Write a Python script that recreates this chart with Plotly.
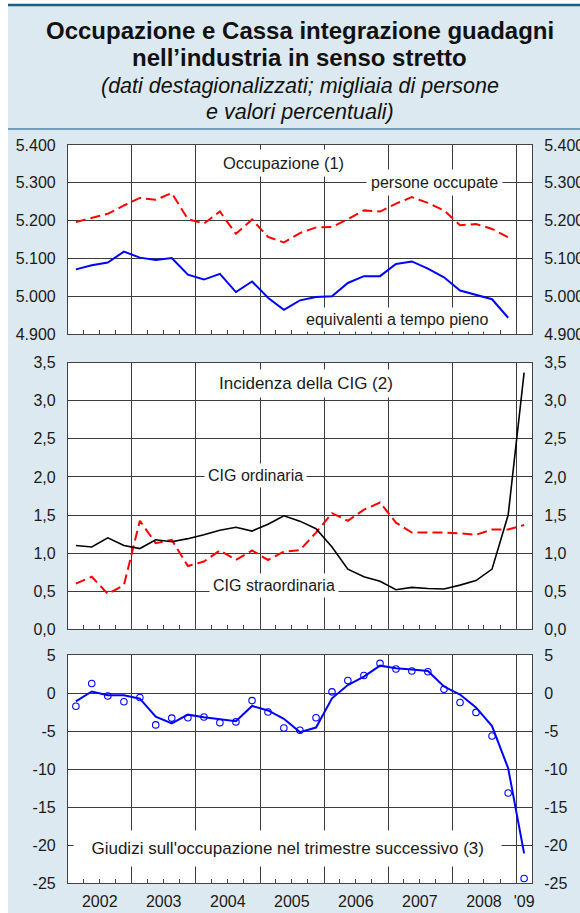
import plotly.graph_objects as go

# ---------------- data ----------------
quarters = [f"{y}-{m:02d}-01" for y in range(2002, 2010) for m in (1, 4, 7, 10)][:29]

persone_occupate = [5196, 5207, 5218, 5240, 5260, 5255, 5273, 5204, 5192, 5224, 5165, 5203,
                    5157, 5142, 5167, 5182, 5183, 5204, 5227, 5224, 5245, 5262, 5247, 5227,
                    5188, 5191, 5178, 5156]
equivalenti_tp = [5071, 5082, 5089, 5118, 5102, 5096, 5101, 5057, 5044, 5059, 5011, 5039,
                  4996, 4964, 4989, 4998, 5000, 5035, 5053, 5053, 5085, 5092, 5073, 5050,
                  5015, 5004, 4992, 4943]

cig_ordinaria = [1.10, 1.08, 1.20, 1.10, 1.06, 1.175, 1.15, 1.19, 1.24, 1.30, 1.34, 1.29,
                 1.38, 1.49, 1.42, 1.32, 1.08, 0.79, 0.69, 0.63, 0.52, 0.55, 0.535, 0.53,
                 0.58, 0.64, 0.79, 1.50, 3.37]
cig_straordinaria = [0.60, 0.69, 0.465, 0.58, 1.425, 1.13, 1.175, 0.83, 0.89, 1.035, 0.91, 1.035,
                     0.91, 1.02, 1.04, 1.27, 1.525, 1.425, 1.57, 1.665, 1.40, 1.27, 1.27, 1.27,
                     1.26, 1.24, 1.31, 1.31, 1.37]

giudizi_media = [-1.1, 0.2, -0.3, -0.3, -0.75, -3.1, -4.0, -2.85, -3.2, -3.45, -3.7, -1.7,
                 -2.3, -3.4, -5.15, -4.55, -0.7, 1.05, 2.15, 3.6, 3.25, 3.1, 2.9, 0.85,
                 -0.2, -1.9, -4.35, -9.9, -21.1]
giudizi = [-1.75, 1.25, -0.4, -1.15, -0.6, -4.2, -3.3, -3.25, -3.15, -3.9, -3.8, -1.0,
           -2.5, -4.6, -4.9, -3.25, 0.15, 1.65, 2.3, 3.9, 3.15, 2.9, 2.8, 0.5,
           -1.25, -2.55, -5.65, -13.15, -24.4]

year_bounds = [f"{y}-01-01" for y in range(2003, 2010)]
quarter_bounds = [f"{y}-{m:02d}-01" for y in range(2002, 2010) for m in (1, 4, 7, 10)][1:29]
year_label_pos = [f"{y}-07-01" for y in range(2002, 2009)] + ["2009-02-15"]
year_labels = ["2002", "2003", "2004", "2005", "2006", "2007", "2008", "'09"]

y1_vals = [4900, 5000, 5100, 5200, 5300, 5400]
y1_text = ["4.900", "5.000", "5.100", "5.200", "5.300", "5.400"]
y2_vals = [0, 0.5, 1.0, 1.5, 2.0, 2.5, 3.0, 3.5]
y2_text = ["0,0", "0,5", "1,0", "1,5", "2,0", "2,5", "3,0", "3,5"]
y3_vals = [-25, -20, -15, -10, -5, 0, 5]
y3_text = ["-25", "-20", "-15", "-10", "-5", "0", "5"]

# ---------------- layout geometry ----------------
W, H = 580, 913
ML, MR, MT, MB = 68, 48, 145, 30
PH = H - MT - MB
PW = W - ML - MR


def yf(px):
    return (H - MB - px) / PH


def xf(px):
    return (px - ML) / PW


FONT = "Liberation Sans, Arial, Helvetica, sans-serif"
BG = "#dde9f0"
GRID = "#3c3c3c"
XR = ["2002-01-01", "2009-04-01"]

fig = go.Figure()

# panel 1
fig.add_trace(go.Scatter(x=quarters[:28], y=persone_occupate, xaxis="x2", yaxis="y",
                         mode="lines", line=dict(color="#ff0000", width=2, dash="10px,5px"),
                         xperiod="M3", xperiodalignment="middle", hoverinfo="skip"))
fig.add_trace(go.Scatter(x=quarters[:28], y=equivalenti_tp, xaxis="x2", yaxis="y",
                         mode="lines", line=dict(color="#0000ff", width=2),
                         xperiod="M3", xperiodalignment="middle", hoverinfo="skip"))
# panel 2
fig.add_trace(go.Scatter(x=quarters, y=cig_straordinaria, xaxis="x3", yaxis="y2",
                         mode="lines", line=dict(color="#ff0000", width=2, dash="10px,5px"),
                         xperiod="M3", xperiodalignment="middle", hoverinfo="skip"))
fig.add_trace(go.Scatter(x=quarters, y=cig_ordinaria, xaxis="x3", yaxis="y2",
                         mode="lines", line=dict(color="#000000", width=1.6),
                         xperiod="M3", xperiodalignment="middle", hoverinfo="skip"))
# panel 3
fig.add_trace(go.Scatter(x=quarters, y=giudizi_media, xaxis="x", yaxis="y3",
                         mode="lines", line=dict(color="#0000ff", width=2),
                         xperiod="M3", xperiodalignment="middle", hoverinfo="skip"))
fig.add_trace(go.Scatter(x=quarters, y=giudizi, xaxis="x4", yaxis="y3",
                         mode="markers",
                         marker=dict(symbol="circle-open", size=6.5, color="#0000ff",
                                     line=dict(width=1.1, color="#0000ff")),
                         xperiod="M3", xperiodalignment="middle", hoverinfo="skip"))
# invisible carriers for right-hand axes
for xa, ya, yy in (("x2", "y4", equivalenti_tp), ("x3", "y5", cig_ordinaria), ("x", "y6", giudizi)):
    fig.add_trace(go.Scatter(x=quarters[:len(yy)], y=yy, xaxis=xa, yaxis=ya, mode="lines",
                             line=dict(color="rgba(0,0,0,0)", width=0), hoverinfo="skip",
                             xperiod="M3", xperiodalignment="middle"))

dom1 = [yf(334), 1.0]
dom2 = [yf(629.3), yf(362.7)]
dom3 = [0.0, yf(655)]

xbase = dict(type="date", range=XR, tickvals=year_bounds, showgrid=True, gridcolor=GRID,
             gridwidth=1, ticks="", showticklabels=False, showline=True, linecolor="#444",
             linewidth=1.2, mirror=True, zeroline=False, fixedrange=True, automargin=False,
             minor=dict(tickvals=quarter_bounds, ticks="inside", ticklen=4, tickcolor="#444",
                        tickwidth=1, showgrid=False))
ybase = dict(showgrid=True, gridcolor=GRID, gridwidth=1, showline=True, linecolor="#444",
             linewidth=1.2, mirror=True, zeroline=False, ticks="outside", ticklen=8,
             tickcolor="rgba(0,0,0,0)", tickfont=dict(family=FONT, size=16, color="#1a1a1a"),
             fixedrange=True, automargin=False)
yright = dict(showgrid=False, showline=False, zeroline=False, ticks="outside", ticklen=8,
              tickcolor="rgba(0,0,0,0)", side="right", automargin=False,
              tickfont=dict(family=FONT, size=16, color="#1a1a1a"), fixedrange=True)

fig.update_layout(
    width=W, height=H, margin=dict(l=ML, r=MR, t=MT, b=MB, pad=0, autoexpand=False),
    paper_bgcolor=BG, plot_bgcolor="white", showlegend=False,
    font=dict(family=FONT, size=16, color="#1a1a1a"),
    xaxis=dict(xbase, anchor="y3", domain=[0, 1]),
    xaxis2=dict(xbase, anchor="y", domain=[0, 1]),
    xaxis3=dict(xbase, anchor="y2", domain=[0, 1]),
    xaxis4=dict(type="date", range=XR, overlaying="x", anchor="y3", side="bottom",
                tickvals=year_label_pos, ticktext=year_labels, showgrid=False,
                showline=False, zeroline=False, ticks="outside", ticklen=4, automargin=False,
                tickcolor="rgba(0,0,0,0)", tickfont=dict(family=FONT, size=16, color="#1a1a1a"),
                fixedrange=True),
    yaxis=dict(ybase, anchor="x2", domain=dom1, range=[4900, 5400], tickvals=y1_vals, ticktext=y1_text),
    yaxis2=dict(ybase, anchor="x3", domain=dom2, range=[0, 3.5], tickvals=y2_vals, ticktext=y2_text),
    yaxis3=dict(ybase, anchor="x", domain=dom3, range=[-25, 5], tickvals=y3_vals, ticktext=y3_text),
    yaxis4=dict(yright, overlaying="y", anchor="x2", range=[4900, 5400], tickvals=y1_vals, ticktext=y1_text),
    yaxis5=dict(yright, overlaying="y2", anchor="x3", range=[0, 3.5], tickvals=y2_vals, ticktext=y2_text),
    yaxis6=dict(yright, overlaying="y3", anchor="x", range=[-25, 5], tickvals=y3_vals, ticktext=y3_text),
)

# frame decorations: white margins, blue rules
fig.add_shape(type="rect", xref="paper", yref="paper", x0=xf(-5), x1=xf(8), y0=yf(H + 5), y1=yf(-5),
              fillcolor="white", line_width=0, layer="below")
fig.add_shape(type="rect", xref="paper", yref="paper", x0=xf(-5), x1=xf(W + 5), y0=yf(4.5), y1=yf(-5),
              fillcolor="white", line_width=0, layer="below")
fig.add_shape(type="line", xref="paper", yref="paper", x0=xf(8), x1=xf(W + 5), y0=yf(5), y1=yf(5),
              line=dict(color="#1d5d86", width=2.5))
fig.add_shape(type="line", xref="paper", yref="paper", x0=xf(8), x1=xf(W + 5), y0=yf(129), y1=yf(129),
              line=dict(color="#4f86aa", width=1.5))

# titles
titles = [
    ("Occupazione e Cassa integrazione guadagni", 31, "bold", "normal", 24),
    ("nell\u2019industria in senso stretto", 57, "bold", "normal", 24),
    ("(dati destagionalizzati; migliaia di persone", 86, "normal", "italic", 21.5),
    ("e valori percentuali)", 112, "normal", "italic", 21.5),
]
for txt, ypx, wt, st, sz in titles:
    fig.add_annotation(text=txt, xref="paper", yref="paper", x=xf(299.5), y=yf(ypx),
                       xanchor="center", yanchor="middle", showarrow=False,
                       font=dict(family=FONT, size=sz, color="#111", weight=wt, style=st))

# in-chart labels
def lab(size):
    return dict(showarrow=False, xanchor="center", yanchor="middle", bgcolor="white",
                font=dict(family=FONT, size=size, color="#1a1a1a"))


fig.add_annotation(text="Occupazione (1)", xref="x2", yref="y", x="2005-05-17", y=5352,
                   borderpad=4, **lab(16.5))
fig.add_annotation(text="persone occupate", xref="x2", yref="y", x="2007-09-20", y=5300,
                   borderpad=4, **lab(16))
fig.add_annotation(text="equivalenti a tempo pieno", xref="x2", yref="y", x="2007-02-21", y=4938,
                   borderpad=3, **lab(16))
fig.add_annotation(text="Incidenza della CIG (2)", xref="x3", yref="y2", x="2005-09-17", y=3.23,
                   borderpad=4, **lab(17))
fig.add_annotation(text="CIG ordinaria", xref="x3", yref="y2", x="2004-12-08", y=2.02,
                   borderpad=3, **lab(16))
fig.add_annotation(text="CIG straordinaria", xref="x3", yref="y2", x="2005-03-20", y=0.57,
                   borderpad=3, **lab(16))
fig.add_annotation(text="\u00a0\u00a0Giudizi sull'occupazione nel trimestre successivo (3)\u00a0\u00a0",
                   xref="x", yref="y3", x="2005-06-06", y=-20.5, borderpad=8, **lab(17))

fig.write_html("out.html", config={"displayModeBar": False},
               post_script="document.body.style.margin='0px';")
